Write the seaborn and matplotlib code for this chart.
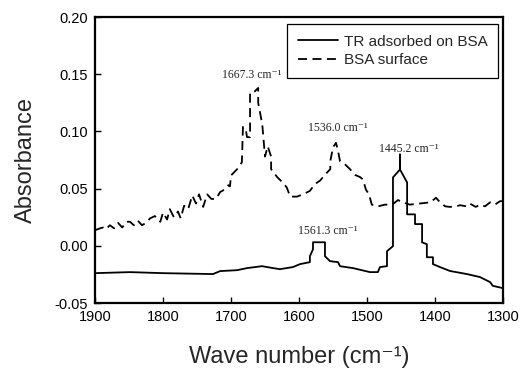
import matplotlib
matplotlib.use("Agg")
import matplotlib.pyplot as plt
import seaborn as sns
import pandas as pd

# BSA surface (dashed)
bsa_wn = [1900, 1892.6, 1888, 1884, 1878, 1872, 1866, 1860, 1854, 1848.5, 1843, 1837, 1831, 1825,
          1819, 1812, 1804, 1800, 1794, 1790, 1784, 1778, 1774, 1769, 1763, 1757, 1751.5, 1747,
          1741, 1735, 1729, 1722, 1716, 1710, 1704, 1701.5, 1700, 1691, 1684, 1682.4, 1678,
          1676.5, 1672, 1672, 1665, 1660, 1660, 1654, 1650, 1646, 1641, 1641, 1632, 1623.5,
          1618, 1613, 1603, 1594, 1584, 1576.5, 1569, 1562, 1554, 1554, 1550, 1545.6, 1543,
          1539.7, 1532, 1525, 1517.6, 1510, 1506, 1501.5, 1497, 1493, 1484, 1473.5, 1463,
          1454.4, 1447, 1437, 1422, 1407, 1398.5, 1392.6, 1385, 1378, 1369, 1363, 1354, 1349,
          1340, 1334, 1326.5, 1319, 1312, 1304.4, 1300]
bsa_abs = [0.0136, 0.0153, 0.016, 0.0145, 0.018, 0.0153, 0.020, 0.016, 0.021, 0.021, 0.018, 0.022,
           0.018, 0.020, 0.024, 0.026, 0.021, 0.029, 0.023, 0.032, 0.025, 0.030, 0.024, 0.035,
           0.032, 0.044, 0.037, 0.045, 0.034, 0.045, 0.041, 0.041, 0.047, 0.049, 0.053, 0.052,
           0.0615, 0.067, 0.073, 0.104, 0.101, 0.095, 0.095, 0.134, 0.135, 0.138, 0.125, 0.106,
           0.078, 0.087, 0.078, 0.067, 0.060, 0.055, 0.051, 0.043, 0.043, 0.045, 0.048, 0.054,
           0.057, 0.062, 0.067, 0.074, 0.086, 0.090, 0.084, 0.074, 0.071, 0.067, 0.062, 0.060,
           0.058, 0.049, 0.045, 0.036, 0.0345, 0.036, 0.036, 0.040, 0.038, 0.036, 0.037, 0.038,
           0.042, 0.038, 0.0345, 0.034, 0.0345, 0.0355, 0.0345, 0.037, 0.034, 0.036, 0.0345,
           0.038, 0.036, 0.039, 0.039]

# TR adsorbed on BSA (solid)
tr_wn = [1900, 1848.5, 1800, 1726.5, 1716, 1691, 1676.5, 1654.4, 1638, 1628, 1609, 1598.5,
         1584, 1584, 1579.4, 1579.4, 1561.8, 1561.8, 1554.4, 1542.6, 1539.7, 1520.6, 1495.6,
         1484, 1481, 1470.6, 1470.6, 1461.8, 1461.8, 1451.5, 1451.5, 1451.5, 1441, 1441,
         1429.4, 1429.4, 1419, 1419, 1412, 1412, 1403, 1403, 1392.6, 1378, 1353, 1334, 1319,
         1315, 1300]
tr_abs = [-0.0239, -0.0230, -0.0239, -0.0247, -0.0221, -0.0213, -0.0195, -0.0178, -0.0195,
          -0.0204, -0.0186, -0.0160, -0.0143, -0.0091, -0.0030, 0.0031, 0.0031, -0.0091,
          -0.0134, -0.0143, -0.0178, -0.0195, -0.0230, -0.0230, -0.0186, -0.0178, -0.0047,
          -0.0003, 0.0598, 0.0667, 0.0798, 0.0667, 0.0554, 0.0275, 0.0275, 0.019, 0.019,
          0.003, 0.0014, -0.010, -0.010, -0.016, -0.0186, -0.022, -0.0247, -0.0273, -0.0317,
          -0.035, -0.037]

series_names = ["TR adsorbed on BSA", "BSA surface"]
peak_labels = ["1667.3", "1536.0", "1445.2", "1561.3"]
peak_text_x = [1669, 1542.6, 1438, 1557]
peak_text_y = [0.1495, 0.1033, 0.085, 0.0127]

x_ticks = [1900, 1800, 1700, 1600, 1500, 1400, 1300]
y_ticks = [-0.05, 0.00, 0.05, 0.10, 0.15, 0.20]

sns.set_theme(style="ticks")
plt.rcParams["font.family"] = ["Liberation Sans", "DejaVu Sans"]
plt.rcParams["axes.unicode_minus"] = False

df_tr = pd.DataFrame({"wn": tr_wn, "abs": tr_abs})
df_bsa = pd.DataFrame({"wn": bsa_wn, "abs": bsa_abs})

fig = plt.figure(figsize=(5.22, 3.68), dpi=100)
ax = fig.add_axes([0.182, 0.1766, 0.7816, 0.7772])

sns.lineplot(data=df_tr, x="wn", y="abs", estimator=None, sort=False, ax=ax,
             color="black", linewidth=1.3, label=series_names[0])
sns.lineplot(data=df_bsa, x="wn", y="abs", estimator=None, sort=False, ax=ax,
             color="black", linewidth=1.3, linestyle=(0, (5, 3)), label=series_names[1])

for lab, tx, ty in zip(peak_labels, peak_text_x, peak_text_y):
    ax.text(tx, ty, lab + " cm\u207b\u00b9", ha="center", va="center",
            fontsize=8.5, family=["Liberation Serif", "DejaVu Serif"])

ax.set_xlim(1900, 1300)
ax.set_ylim(-0.05, 0.20)
ax.set_xticks(x_ticks)
ax.set_yticks(y_ticks)
ax.set_yticklabels([f"{v:.2f}" for v in y_ticks])
ax.tick_params(direction="in", length=4, width=1, labelsize=10.5, color="black",
               labelcolor="black", pad=5)
for s in ax.spines.values():
    s.set_visible(True)
    s.set_linewidth(1.6)
    s.set_color("black")

ax.set_xlabel("Wave number (cm\u207b\u00b9)", fontsize=17, labelpad=16)
ax.set_ylabel("Absorbance", fontsize=17, labelpad=13)

leg = ax.legend(loc="upper right", bbox_to_anchor=(0.988, 0.976), borderaxespad=0,
                fontsize=11, handlelength=2.6, handletextpad=0.4, frameon=True,
                fancybox=False, edgecolor="black", framealpha=1, borderpad=0.7,
                labelspacing=0.3)
leg.get_frame().set_linewidth(0.9)

fig.savefig("out.png", dpi=100)
